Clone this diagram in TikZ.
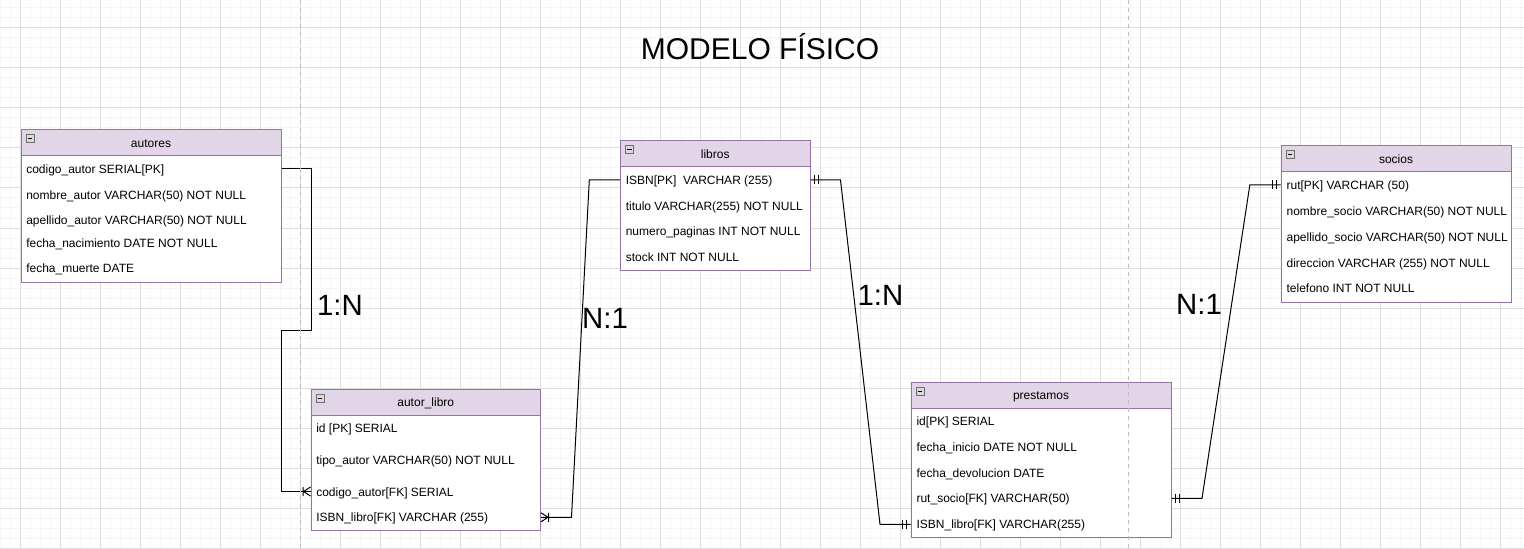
\documentclass[tikz,border=0pt]{standalone}
\usepackage{fontspec}
\setmainfont{Liberation Sans}
\usetikzlibrary{calc}
\definecolor{hdrfill}{HTML}{E1D5E7}
\definecolor{hdrdraw}{HTML}{9673A6}
\definecolor{gridmaj}{HTML}{DEDEDE}
\definecolor{gridmin}{HTML}{F6F6F6}
\definecolor{pagebreak}{HTML}{BDBDBD}
\definecolor{iconfill}{HTML}{D9D9D9}
\definecolor{icondraw}{HTML}{6F6F6F}
\tikzset{
 tablebody/.style={draw=hdrdraw, fill=white, line width=0.75pt, inner sep=0pt, anchor=north west},
 tablehead/.style={draw=hdrdraw, fill=hdrfill, line width=0.75pt, inner sep=0pt, anchor=north west,
   minimum height=19.5pt, text height=6.75pt, text depth=0pt, font=\fontsize{9pt}{11pt}\selectfont},
 rowtext/.style={anchor=west, inner sep=0pt, text height=6.75pt, text depth=0pt, font=\fontsize{9pt}{11pt}\selectfont},
 minusicon/.style={draw=icondraw, fill=iconfill, line width=0.75pt, minimum size=6pt, inner sep=0pt,
   path picture={\draw[line width=0.75pt,black] ([xshift=1.2pt]path picture bounding box.west) -- ([xshift=-1.2pt]path picture bounding box.east);}},
 conn/.style={draw=black, line width=0.75pt},
 cardlabel/.style={inner sep=0pt, text height=15.75pt, text depth=0pt, font=\fontsize{22pt}{26pt}\selectfont},
 gridminor/.style={draw=gridmin, line width=0.75pt},
 gridmajor/.style={draw=gridmaj, line width=0.75pt},
 pageline/.style={draw=pagebreak, line width=0.75pt, dash pattern=on 3pt off 3pt},
}
\newcommand{\ertable}[5]{%
 \node[tablebody, minimum width=#3, minimum height=#4] (#1) at (#2) {};
 \node[tablehead, minimum width=#3] (#1-head) at (#2) {#5};
 \node[minusicon] (#1-icon) at ($(#1.north west)+(9.5,9.5)$) {};
}
\newcommand{\crowmark}[2]{\begin{scope}[shift={(#1)}, xscale=#2]
 \draw[conn] (7,0) -- (0,-4.5) (7,0) -- (0,4.5) (7.5,-4.5) -- (7.5,4.5);\end{scope}}
\newcommand{\barmark}[2]{\begin{scope}[shift={(#1)}, xscale=#2]
 \draw[conn] (4,-4.5) -- (4,4.5) (8,-4.5) -- (8,4.5);\end{scope}}
\begin{document}
\begin{tikzpicture}[x=0.75pt,y=-0.75pt]
\useasboundingbox (0,0) rectangle (1524,549);
\fill[white] (0,0) rectangle (1524,549);
% grid
\foreach \x in {0,10,...,1520} \draw[gridminor] (\x,0) -- (\x,549);
\foreach \y in {8,18,...,548} \draw[gridminor] (0,\y) -- (1524,\y);
\foreach \x in {20,60,...,1500} \draw[gridmajor] (\x,0) -- (\x,549);
\foreach \y in {28,68,...,548} \draw[gridmajor] (0,\y) -- (1524,\y);

% title
\node[inner sep=0pt, text height=16.1pt, text depth=0pt, font=\fontsize{22.5pt}{27pt}\selectfont] (title) at (760,48.5) {MODELO FÍSICO};

% tables
\ertable{autores}{20.5,129.5}{195pt}{114pt}{autores}
\node[rowtext] (aut-1) at (26,169) {codigo\_autor SERIAL[PK]};
\node[rowtext] (aut-2) at (26,194.7) {nombre\_autor VARCHAR(50) NOT NULL};
\node[rowtext] (aut-3) at (26,220) {apellido\_autor VARCHAR(50) NOT NULL};
\node[rowtext] (aut-4) at (26,242.7) {fecha\_nacimiento DATE NOT NULL};
\node[rowtext] (aut-5) at (26,268) {fecha\_muerte DATE};

\ertable{autorlibro}{310.5,388.5}{172.125pt}{106.125pt}{autor\_libro}
\node[rowtext] (al-1) at (316,427.7) {id [PK] SERIAL};
\node[rowtext] (al-2) at (316,460) {tipo\_autor VARCHAR(50) NOT NULL};
\node[rowtext] (al-3) at (316,491.5) {codigo\_autor[FK] SERIAL};
\node[rowtext] (al-4) at (316,517.3) {ISBN\_libro[FK] VARCHAR (255)};

\ertable{libros}{620,140.5}{142.125pt}{97.125pt}{libros}
\node[rowtext] (lib-1) at (625.5,180) {ISBN[PK]\ \ VARCHAR (255)};
\node[rowtext] (lib-2) at (625.5,206) {titulo VARCHAR(255) NOT NULL};
\node[rowtext] (lib-3) at (625.5,231) {numero\_paginas INT NOT NULL};
\node[rowtext] (lib-4) at (625.5,257.3) {stock INT NOT NULL};

\ertable{prestamos}{910.5,381.5}{195pt}{116.25pt}{prestamos}
\node[rowtext] (pre-1) at (916.3,421) {id[PK] SERIAL};
\node[rowtext] (pre-2) at (916.3,447) {fecha\_inicio DATE NOT NULL};
\node[rowtext] (pre-3) at (916.3,472.7) {fecha\_devolucion DATE};
\node[rowtext] (pre-4) at (916.3,498.3) {rut\_socio[FK] VARCHAR(50)};
\node[rowtext] (pre-5) at (916.3,524.3) {ISBN\_libro[FK] VARCHAR(255)};

\ertable{socios}{1280.5,145.5}{172.5pt}{117pt}{socios}
\node[rowtext] (soc-1) at (1286.3,185) {rut[PK] VARCHAR (50)};
\node[rowtext] (soc-2) at (1286.3,211) {nombre\_socio VARCHAR(50) NOT NULL};
\node[rowtext] (soc-3) at (1286.3,237) {apellido\_socio VARCHAR(50) NOT NULL};
\node[rowtext] (soc-4) at (1286.3,262.7) {direccion VARCHAR (255) NOT NULL};
\node[rowtext] (soc-5) at (1286.3,288.3) {telefono INT NOT NULL};

% connector end points
\coordinate (c1s) at (autores.east |- aut-1);
\coordinate (c1e) at (autorlibro.west |- al-3);
\coordinate (c2s) at (autorlibro.east |- al-4);
\coordinate (c2e) at (libros.west |- lib-1);
\coordinate (c3s) at (libros.east |- lib-1);
\coordinate (c3e) at (prestamos.west |- pre-5);
\coordinate (c4s) at (prestamos.east |- pre-4);
\coordinate (c4e) at (socios.west |- soc-1);

% connectors
\draw[conn] (c1s) -- ++(30,0) -- ++(0,161) -- ++(-30,0) |- (c1e);
\draw[conn] (c2s) -- ++(30.5,0) -- ($(c2e)+(-30.7,0)$) -- (c2e);
\draw[conn] (c3s) -- ++(30,0) -- ($(c3e)+(-30.5,0)$) -- (c3e);
\draw[conn] (c4s) -- ++(30.5,0) -- ($(c4e)+(-30.7,0)$) -- (c4e);

% end markers
\crowmark{c1e}{-1}
\crowmark{c2s}{1}
\barmark{c3s}{1}
\barmark{c3e}{-1}
\barmark{c4s}{1}
\barmark{c4e}{-1}

% cardinality labels
\node[cardlabel] (lab1) at (340,304.5) {1:N};
\node[cardlabel] (lab2) at (605,317.5) {N:1};
\node[cardlabel] (lab3) at (880.5,294.5) {1:N};
\node[cardlabel] (lab4) at (1199,304) {N:1};

% page break lines
\draw[pageline] (300,0) -- (300,549);
\draw[pageline] (1128,0) -- (1128,549);
\end{tikzpicture}
\end{document}
